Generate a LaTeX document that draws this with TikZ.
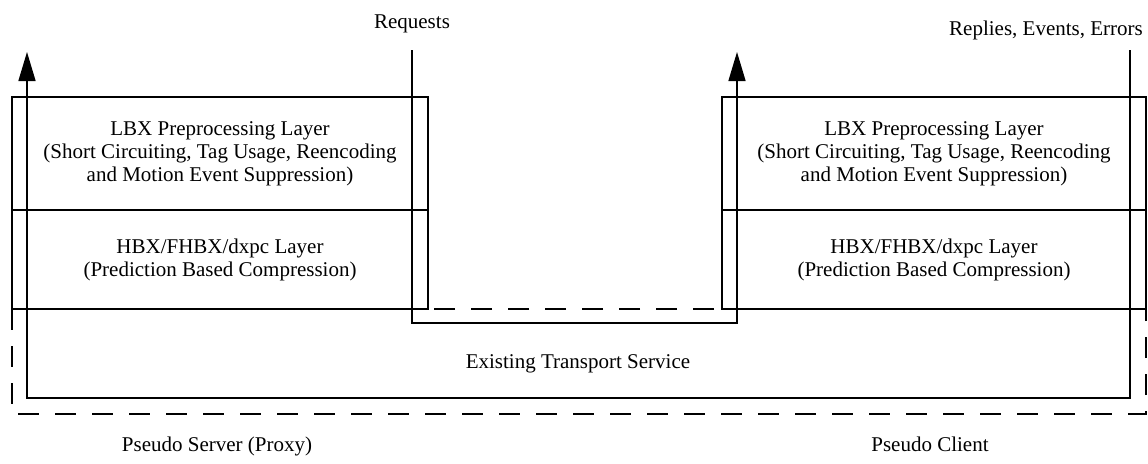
\documentclass[tikz,border=0pt]{standalone}
\usepackage{fontspec}
\setmainfont{Liberation Serif}
\usetikzlibrary{arrows.meta}
\begin{document}
\begin{tikzpicture}[x=1pt,y=-1pt,line width=1.5pt,
  lbl/.style={font=\fontsize{21}{23}\selectfont, align=center, inner sep=0pt},
  layerbox/.style={draw, lbl, anchor=north west, outer sep=0pt},
  flow/.style={draw, -{Triangle[length=29pt,width=17pt]}},
  frame/.style={draw, dash pattern=on 21pt off 16pt}]
\useasboundingbox (0,0) rectangle (1148,463);
% layer boxes
\node[layerbox, minimum width=416pt, minimum height=113pt] (lbxL) at (12,97)
  {LBX Preprocessing Layer\\(Short Circuiting, Tag Usage, Reencoding\\and Motion Event Suppression)};
\node[layerbox, minimum width=416pt, minimum height=99pt] (hbxL) at (12,210)
  {HBX/FHBX/dxpc Layer\\(Prediction Based Compression)};
\node[layerbox, minimum width=424pt, minimum height=113pt] (lbxR) at (722,97)
  {LBX Preprocessing Layer\\(Short Circuiting, Tag Usage, Reencoding\\and Motion Event Suppression)};
\node[layerbox, minimum width=424pt, minimum height=99pt] (hbxR) at (722,210)
  {HBX/FHBX/dxpc Layer\\(Prediction Based Compression)};
% dashed frame
\draw[frame] (12,309) rectangle (1146,414);
% labels
\node[lbl, anchor=base] (req) at (412,28) {Requests};
\node[lbl, anchor=base] (rep) at (1046,35) {Replies, Events, Errors};
\node[lbl, anchor=base] (trans) at (578,368) {Existing Transport Service};
\node[lbl, anchor=base] (srv) at (217,451) {Pseudo Server (Proxy)};
\node[lbl, anchor=base] (cli) at (930,451) {Pseudo Client};
% connectors
\coordinate (reqIn) at (412,50);
\coordinate (reqA) at (412,323);
\coordinate (reqB) at (737,323);
\coordinate (reqOut) at (737,52);
\draw[flow] (reqIn) -- (reqA) -- (reqB) -- (reqOut);
\coordinate (repIn) at (1130,50);
\coordinate (repA) at (1130,398);
\coordinate (repB) at (27,398);
\coordinate (repOut) at (27,52);
\draw[flow] (repIn) -- (repA) -- (repB) -- (repOut);
\end{tikzpicture}
\end{document}
